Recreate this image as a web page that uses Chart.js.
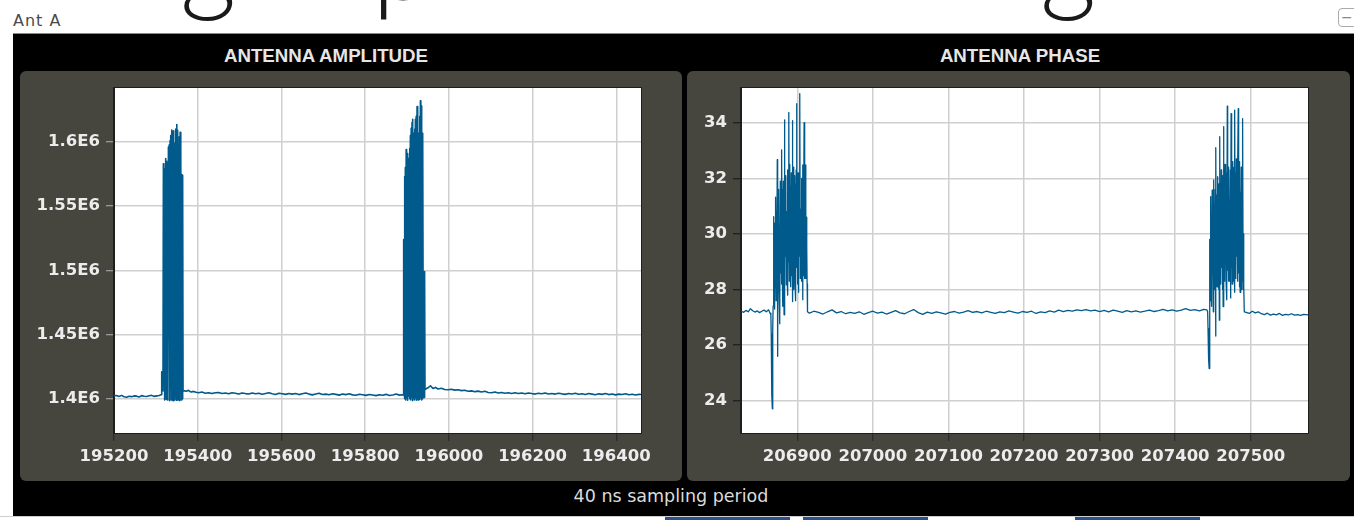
<!DOCTYPE html>
<html>
<head>
<meta charset="utf-8">
<script src="https://cdn.jsdelivr.net/npm/chart.js@4/dist/chart.umd.min.js"></script>
<style>
  html,body{margin:0;padding:0;background:#fff;width:1354px;height:520px;overflow:hidden;position:relative;}
  .abs{position:absolute;}
  .big{position:absolute;top:-98px;font-family:"Lato","Liberation Sans",sans-serif;font-weight:300;font-size:110px;line-height:110px;color:#1a1a1a;}
  .ant{position:absolute;left:13px;top:13px;font-family:"DejaVu Sans",sans-serif;font-size:16px;line-height:16px;letter-spacing:1px;color:#4a4a4a;}
  .btn{position:absolute;left:1338px;top:8px;width:20px;height:19px;border:1px solid #aaa;border-radius:4px;background:#fff;box-sizing:border-box;font-family:"DejaVu Sans",sans-serif;font-size:14px;line-height:17px;color:#888;padding-left:2px;}
  #blk{position:absolute;left:13px;top:33px;width:1341px;height:484px;background:#000;border-top:1px solid #8a8a8a;box-sizing:border-box;}
  .ttl{position:absolute;width:400px;text-align:center;font-family:"Liberation Sans",sans-serif;font-weight:bold;font-size:18.7px;line-height:20px;color:#e6e6e6;top:46px;}
  .pnl{position:absolute;top:71px;height:410px;background:#46463f;border-radius:6px;}
  .pnl canvas{position:absolute;left:0;top:0;}
  .foot{position:absolute;left:471px;width:400px;top:486px;text-align:center;font-family:"DejaVu Sans",sans-serif;font-size:17.5px;line-height:20px;color:#dcdcdc;}
  .strip{position:absolute;top:517px;height:3px;background:#2d4f8e;}
</style>
</head>
<body>
<span class="big" style="left:180px;">g</span>
<span class="big" style="left:372px;">p</span>
<span class="big" style="left:1040px;">g</span>
<div class="ant">Ant A</div>
<div class="btn">−</div>
<div id="blk"></div>
<div class="ttl" style="left:126px;">ANTENNA AMPLITUDE</div>
<div class="ttl" style="left:820px;">ANTENNA PHASE</div>
<div class="pnl" style="left:20px;width:662px;"><canvas id="c1" width="662" height="410"></canvas></div>
<div class="pnl" style="left:687px;width:663px;"><canvas id="c2" width="663" height="410"></canvas></div>
<div class="foot">40 ns sampling period</div>
<div class="abs" style="left:0;top:516px;width:1354px;height:1px;background:#cfcfcf;"></div>
<div class="strip" style="left:665px;width:125px;"></div>
<div class="strip" style="left:803px;width:125px;"></div>
<div class="strip" style="left:1075px;width:125px;"></div>
<script>
// ---------- DATA ----------
// Antenna amplitude: [sample index, amplitude in units of 1E6]
const ampBaselineA = [
  [195200,1.4022],[195206,1.4025],[195212,1.4018],[195218,1.4026],[195224,1.4015],[195230,1.4012],
  [195236,1.4019],[195242,1.4016],[195248,1.4022],[195254,1.4020],[195260,1.4014],[195266,1.4024],
  [195272,1.4019],[195278,1.4017],[195284,1.4023],[195290,1.4026],[195296,1.4018],[195302,1.4022],
  [195308,1.4025],[195312,1.4031]
];
const ampBurstA = [
  [195313,1.4031],[195314,1.4210],[195316,1.4205],[195317,1.4060],[195318,1.5830],[195319,1.4100],
  [195320,1.5790],[195321,1.3990],[195322,1.5720],[195323,1.4000],[195324,1.5870],[195325,1.3995],
  [195326,1.5850],[195327,1.4020],[195328,1.5828],[195329,1.3990],[195330,1.5960],[195331,1.4750],
  [195332,1.5977],[195333,1.3985],[195334,1.6010],[195335,1.4740],[195336,1.6050],[195337,1.3990],
  [195338,1.6093],[195339,1.4010],[195340,1.6080],[195341,1.3985],[195342,1.6086],[195343,1.4000],
  [195344,1.5990],[195345,1.3990],[195346,1.5951],[195347,1.4020],[195348,1.6100],[195349,1.3988],
  [195350,1.6135],[195351,1.4005],[195352,1.6090],[195353,1.3990],[195354,1.5980],[195355,1.4010],
  [195356,1.6040],[195357,1.3985],[195358,1.6075],[195359,1.4660],[195360,1.5950],[195361,1.3990],
  [195362,1.5746],[195363,1.4000],[195364,1.5740],[195365,1.4060]
];
const ampBaselineB = [
  [195368,1.4062],[195372,1.4058],[195378,1.4065],[195384,1.4052],[195390,1.4057],[195396,1.4050],
  [195402,1.4046],[195410,1.4052],[195418,1.4043],[195426,1.4047],[195434,1.4040],[195442,1.4046],
  [195450,1.4049],[195458,1.4041],[195466,1.4044],[195474,1.4038],[195482,1.4046],[195490,1.4043],
  [195498,1.4036],[195506,1.4044],[195514,1.4040],[195522,1.4037],[195530,1.4045],[195538,1.4039],
  [195546,1.4042],[195554,1.4035],[195562,1.4041],[195570,1.4047],[195578,1.4038],[195586,1.4033],
  [195594,1.4043],[195602,1.4039],[195610,1.4034],[195618,1.4041],[195626,1.4036],[195634,1.4040],
  [195642,1.4032],[195650,1.4038],[195658,1.4044],[195666,1.4036],[195674,1.4030],[195682,1.4037],
  [195690,1.4042],[195698,1.4033],[195706,1.4036],[195714,1.4031],[195722,1.4039],[195730,1.4034],
  [195738,1.4028],[195746,1.4036],[195754,1.4032],[195762,1.4038],[195770,1.4030],[195778,1.4027],
  [195786,1.4035],[195794,1.4031],[195802,1.4026],[195810,1.4033],[195818,1.4029],[195826,1.4024],
  [195834,1.4031],[195842,1.4027],[195850,1.4034],[195858,1.4025],[195866,1.4029],[195874,1.4036],
  [195882,1.4028],[195889,1.4031]
];
const ampBurstB = [
  [195891,1.4030],[195892,1.5240],[195893,1.4050],[195894,1.5730],[195895,1.4000],[195896,1.5800],
  [195897,1.3990],[195898,1.5940],[195899,1.4010],[195900,1.5910],[195901,1.3988],[195902,1.5899],
  [195903,1.4020],[195904,1.5870],[195905,1.4746],[195906,1.5950],[195907,1.4000],[195908,1.6050],
  [195909,1.3990],[195910,1.6107],[195911,1.4010],[195912,1.6150],[195913,1.3985],[195914,1.6177],
  [195915,1.4000],[195916,1.6068],[195917,1.4740],[195918,1.6100],[195919,1.3990],[195920,1.6177],
  [195921,1.4010],[195922,1.6200],[195923,1.3988],[195924,1.6275],[195925,1.4000],[195926,1.6250],
  [195927,1.3990],[195928,1.6068],[195929,1.4750],[195930,1.6200],[195931,1.3995],[195932,1.6320],
  [195933,1.4010],[195934,1.6280],[195935,1.3990],[195936,1.6068],[195937,1.4000],[195938,1.6050],
  [195939,1.4020],[195940,1.4991],[195941,1.4010],[195942,1.4991],[195943,1.4070]
];
const ampBaselineC = [
  [195946,1.4078],[195950,1.4085],[195956,1.4101],[195962,1.4080],[195968,1.4088],[195974,1.4076],
  [195982,1.4082],[195990,1.4072],[195998,1.4070],[196006,1.4074],[196014,1.4067],[196022,1.4070],
  [196030,1.4063],[196038,1.4066],[196046,1.4058],[196054,1.4061],[196062,1.4055],[196070,1.4059],
  [196078,1.4052],[196086,1.4058],[196094,1.4049],[196102,1.4046],[196110,1.4052],[196118,1.4044],
  [196126,1.4049],[196134,1.4043],[196142,1.4047],[196150,1.4041],[196158,1.4046],[196166,1.4040],
  [196174,1.4044],[196182,1.4038],[196190,1.4045],[196198,1.4040],[196206,1.4036],[196214,1.4043],
  [196222,1.4039],[196230,1.4045],[196238,1.4037],[196246,1.4041],[196254,1.4036],[196262,1.4043],
  [196270,1.4038],[196278,1.4034],[196286,1.4041],[196294,1.4037],[196302,1.4042],[196310,1.4035],
  [196318,1.4039],[196326,1.4033],[196334,1.4040],[196342,1.4036],[196350,1.4031],[196358,1.4038],
  [196366,1.4034],[196374,1.4040],[196382,1.4032],[196390,1.4037],[196398,1.4030],[196406,1.4036],
  [196414,1.4033],[196422,1.4039],[196430,1.4031],[196438,1.4035],[196446,1.4029],[196454,1.4034],
  [196460,1.4032]
];

// Antenna phase: [sample index, phase]
const phaseBaselineA = [
  [206826,27.22],[206829,27.18],[206832,27.25],[206835,27.20],[206838,27.31],[206841,27.24],
  [206844,27.19],[206847,27.23],[206850,27.17],[206853,27.22],[206856,27.26],[206859,27.20],
  [206862,27.27],[206864,27.15]
];
const phaseBurstA = [
  [206865.0,27.10],[206865.5,26.40],[206866.0,25.00],[206866.5,24.20],[206867.0,23.71],[206867.5,26.60],
  [206868.0,27.40],[206868.5,30.62],[206869.0,27.50],[206869.5,29.80],[206870.0,27.30],[206870.5,30.40],
  [206871.0,28.10],[206871.5,31.32],[206872.0,27.60],[206872.5,30.80],[206873.0,28.30],[206873.5,32.67],
  [206874.0,25.60],[206874.5,30.50],[206875.0,28.00],[206875.5,31.60],[206876.0,27.90],[206876.5,30.20],
  [206877.0,26.77],[206877.5,31.90],[206878.0,28.60],[206878.5,31.20],[206879.0,28.20],[206879.5,33.02],
  [206880.0,28.80],[206880.5,31.60],[206881.0,27.40],[206881.5,31.90],[206882.0,28.40],[206882.5,27.09],
  [206883.0,34.10],[206883.5,28.90],[206884.0,31.60],[206884.5,29.20],[206885.0,32.10],[206885.5,28.17],
  [206886.0,30.80],[206886.5,28.60],[206887.0,32.30],[206887.5,27.80],[206888.0,31.50],[206888.5,29.00],
  [206889.0,34.37],[206889.5,28.30],[206890.0,32.50],[206890.5,28.90],[206891.0,31.70],[206891.5,28.10],
  [206892.0,32.20],[206892.5,28.50],[206893.0,31.40],[206893.5,34.08],[206894.0,27.57],[206894.5,32.40],
  [206895.0,28.00],[206895.5,31.00],[206896.0,28.70],[206896.5,32.10],[206897.0,28.20],[206897.5,31.80],
  [206898.0,27.60],[206898.5,32.30],[206899.0,34.69],[206899.5,28.80],[206900.0,31.50],[206900.5,28.20],
  [206901.0,32.20],[206901.5,27.90],[206902.0,31.90],[206902.5,29.20],[206903.0,32.30],[206903.5,35.05],
  [206904.0,28.40],[206904.5,30.90],[206905.0,28.80],[206905.5,32.00],[206906.0,28.30],[206906.5,31.60],
  [206907.0,27.63],[206907.5,32.48],[206908.0,28.50],[206908.5,31.20],[206909.0,34.00],[206909.5,28.40],
  [206910.0,32.40],[206910.5,29.00],[206911.0,32.48],[206911.5,28.40],[206912.0,30.60],[206912.5,29.50],
  [206913.0,28.20],[206913.5,27.20]
];
const phaseBaselineB = [
  [206916,27.15],[206922,27.22],[206928,27.18],[206934,27.12],[206940,27.20],[206946,27.27],
  [206952,27.16],[206958,27.21],[206964,27.13],[206970,27.18],[206976,27.14],[206982,27.20],
  [206988,27.11],[206994,27.17],[207000,27.22],[207006,27.15],[207012,27.19],[207018,27.12],
  [207024,27.18],[207030,27.24],[207036,27.16],[207042,27.13],[207048,27.21],[207054,27.28],
  [207060,27.17],[207066,27.11],[207072,27.19],[207078,27.14],[207084,27.20],[207090,27.16],
  [207096,27.12],[207102,27.18],[207108,27.21],[207114,27.15],[207120,27.19],[207126,27.24],
  [207132,27.18],[207138,27.21],[207144,27.16],[207150,27.22],[207156,27.18],[207162,27.14],
  [207168,27.20],[207174,27.17],[207180,27.23],[207186,27.19],[207192,27.15],[207198,27.21],
  [207204,27.18],[207210,27.22],[207216,27.14],[207222,27.20],[207228,27.17],[207234,27.23],
  [207240,27.19],[207246,27.26],[207252,27.21],[207258,27.25],[207264,27.22],[207270,27.27],
  [207276,27.24],[207282,27.28],[207288,27.23],[207294,27.26],[207300,27.21],[207306,27.25],
  [207312,27.20],[207318,27.26],[207324,27.22],[207330,27.18],[207336,27.24],[207342,27.20],
  [207348,27.23],[207354,27.19],[207360,27.22],[207366,27.26],[207372,27.21],[207378,27.24],
  [207384,27.29],[207390,27.23],[207396,27.27],[207402,27.22],[207408,27.26],[207414,27.31],
  [207420,27.25],[207426,27.28],[207432,27.23],[207438,27.29],[207442,27.27]
];
const phaseBurstB = [
  [207443.0,27.20],[207443.5,26.60],[207444.0,25.90],[207444.5,25.50],[207445.0,25.16],[207445.5,26.40],
  [207446.0,29.80],[207446.5,27.60],[207447.0,31.34],[207447.5,28.20],[207448.0,30.60],[207448.5,27.40],
  [207449.0,31.58],[207449.5,28.60],[207450.0,31.00],[207450.5,27.20],[207451.0,31.94],[207451.5,28.40],
  [207452.0,30.90],[207452.5,28.00],[207453.0,31.60],[207453.5,26.33],[207454.0,33.10],[207454.5,28.50],
  [207455.0,31.40],[207455.5,28.10],[207456.0,32.06],[207456.5,28.70],[207457.0,31.20],[207457.5,28.00],
  [207458.0,31.80],[207458.5,26.90],[207459.0,33.50],[207459.5,28.60],[207460.0,31.50],[207460.5,28.20],
  [207461.0,32.30],[207461.5,28.80],[207462.0,31.40],[207462.5,28.00],[207463.0,32.10],[207463.5,27.39],
  [207464.0,33.86],[207464.5,28.60],[207465.0,31.90],[207465.5,28.30],[207466.0,32.50],[207466.5,29.00],
  [207467.0,31.30],[207467.5,28.20],[207468.0,32.20],[207468.5,27.63],[207469.0,34.60],[207469.5,28.70],
  [207470.0,31.60],[207470.5,28.30],[207471.0,32.40],[207471.5,29.10],[207472.0,31.20],[207472.5,28.30],
  [207473.0,32.30],[207473.5,27.70],[207474.0,34.33],[207474.5,28.80],[207475.0,32.00],[207475.5,28.20],
  [207476.0,32.60],[207476.5,29.00],[207477.0,31.40],[207477.5,28.30],[207478.0,32.40],[207478.5,27.90],
  [207479.0,34.45],[207479.5,28.60],[207480.0,32.20],[207480.5,28.40],[207481.0,32.70],[207481.5,29.20],
  [207482.0,31.60],[207482.5,28.30],[207483.0,32.50],[207483.5,34.51],[207484.0,28.60],[207484.5,31.80],
  [207485.0,28.10],[207485.5,32.60],[207486.0,27.90],[207486.5,31.50],[207487.0,28.40],[207487.5,32.40],
  [207488.0,28.00],[207488.5,31.70],[207489.0,28.30],[207489.5,34.15],[207490.0,28.00],[207490.5,30.00],
  [207491.0,28.10],[207491.5,27.20]
];
const phaseBaselineC = [
  [207494,27.18],[207498,27.14],[207502,27.22],[207506,27.16],[207510,27.20],[207514,27.13],
  [207518,27.10],[207522,27.15],[207526,27.08],[207530,27.12],[207534,27.09],[207538,27.14],
  [207542,27.07],[207546,27.11],[207550,27.09],[207554,27.13],[207558,27.08],[207562,27.10],
  [207566,27.07],[207570,27.11],[207576,27.09]
];

// Axis ranges and ticks
const ampXRange = [195200, 196459];
const ampYRange = [1.3733, 1.642];
const ampTicksX = [195200,195400,195600,195800,196000,196200,196400];
const ampTicksY = [1.4,1.45,1.5,1.55,1.6];
const ampTickLabels = ['1.4E6','1.45E6','1.5E6','1.55E6','1.6E6'];

const phaseXRange = [206825.5, 207575.8];
const phaseYRange = [22.84, 35.25];
const phaseTicksX = [206900,207000,207100,207200,207300,207400,207500];
const phaseTicksY = [24,26,28,30,32,34];
const phaseTickLabels = ['24','26','28','30','32','34'];

// ---------- RENDER ----------
const toPts = segs => segs.flat().map(p => ({x:p[0], y:p[1]}));
const ampPoints = toPts([ampBaselineA, ampBurstA, ampBaselineB, ampBurstB, ampBaselineC]);
const phasePoints = toPts([phaseBaselineA, phaseBurstA, phaseBaselineB, phaseBurstB, phaseBaselineC]);

const framePlugin = {
  id: 'frame',
  beforeDraw(chart){
    const {ctx, chartArea:a} = chart;
    ctx.save(); ctx.fillStyle = '#ffffff';
    ctx.fillRect(a.left, a.top, a.right - a.left, a.bottom - a.top);
    ctx.restore();
  },
  afterDraw(chart){
    const {ctx, chartArea:a} = chart;
    ctx.save(); ctx.strokeStyle = '#1e1e1e'; ctx.lineWidth = 1;
    ctx.strokeRect(Math.round(a.left) - 0.5, Math.round(a.top) - 0.5,
                   Math.round(a.right - a.left) + 1, Math.round(a.bottom - a.top) + 1);
    ctx.restore();
  }
};

const tickFont = {family:'"DejaVu Sans", Verdana, sans-serif', weight:'bold', size:16.5};

function makeChart(id, points, xRange, yRange, ticksX, ticksY, labelsY, yWidth, padRight, yTickColor, lineW){
  return new Chart(document.getElementById(id), {
    type: 'line',
    data: { datasets: [{
      data: points, borderColor: '#005a8c', borderWidth: lineW, pointRadius: 0,
      tension: 0, fill: false, borderJoinStyle: 'round', borderCapStyle: 'butt'
    }]},
    options: {
      responsive: false, animation: false, events: [],
      layout: { padding: { top: 17, right: padRight, left: 0, bottom: 0 } },
      plugins: { legend: {display:false}, tooltip: {enabled:false}, title: {display:false} },
      scales: {
        x: {
          type: 'linear', min: xRange[0], max: xRange[1],
          afterBuildTicks: s => { s.ticks = ticksX.map(v => ({value: v})); },
          afterFit: s => { s.height = 48; },
          ticks: { color:'#ececec', font: tickFont, padding: 6, maxRotation: 0, autoSkip: false,
                   callback: v => String(v) },
          grid: { color:'#cfcfcf', lineWidth: 1.5, tickLength: 8, tickColor:'#262626', tickWidth: 1 },
          border: { display: true, color:'#1e1e1e', width: 1 }
        },
        y: {
          type: 'linear', min: yRange[0], max: yRange[1],
          afterBuildTicks: s => { s.ticks = ticksY.map(v => ({value: v})); },
          afterFit: s => { s.width = yWidth; },
          ticks: { color:'#ececec', font: tickFont, padding: 6, autoSkip: false,
                   callback: (v, i) => labelsY[i] },
          grid: { color:'#cfcfcf', lineWidth: 1.5, tickLength: 8, tickColor: yTickColor, tickWidth: 1 },
          border: { display: true, color:'#1e1e1e', width: 1 }
        }
      }
    },
    plugins: [framePlugin]
  });
}

makeChart('c1', ampPoints, ampXRange, ampYRange, ampTicksX, ampTicksY, ampTickLabels, 94, 41, '#b5b5b5', 1.6);
makeChart('c2', phasePoints, phaseXRange, phaseYRange, phaseTicksX, phaseTicksY, phaseTickLabels, 54, 42, '#141414', 1.3);
</script>
</body>
</html>
